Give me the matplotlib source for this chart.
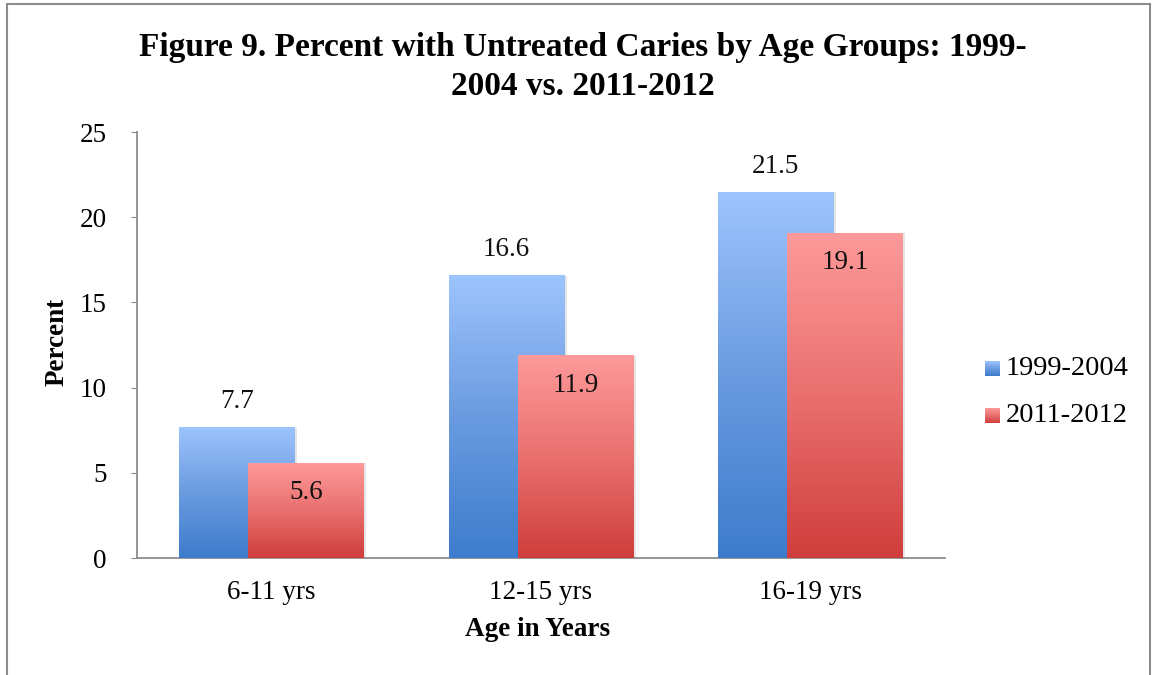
import numpy as np
import matplotlib
matplotlib.use("Agg")
import matplotlib.pyplot as plt
from matplotlib.colors import LinearSegmentedColormap
from matplotlib.patches import Rectangle

categories = ["6-11 yrs", "12-15 yrs", "16-19 yrs"]
series_names = ["1999-2004", "2011-2012"]
values_1999_2004 = [7.7, 16.6, 21.5]
values_2011_2012 = [5.6, 11.9, 19.1]
y_ticks = [0, 5, 10, 15, 20, 25]

title = "Figure 9. Percent with Untreated Caries by Age Groups: 1999-\n2004 vs. 2011-2012"
x_label = "Age in Years"
y_label = "Percent"

SERIF = ["Liberation Serif", "DejaVu Serif"]
plt.rcParams["font.family"] = SERIF
FS = 19.5

blue_cmap = LinearSegmentedColormap.from_list("blue_grad", ["#3d7ccc", "#6a9be0", "#9ec4fd"])
red_cmap = LinearSegmentedColormap.from_list("red_grad", ["#cf3e3c", "#e9706f", "#fe9a9a"])

fig = plt.figure(figsize=(11.57, 6.75), dpi=100)
W, H = 1157, 675

# outer frame
fig.patches.append(Rectangle((7 / W, -0.01), (1150 - 7) / W, (H - 4) / H + 0.01,
                             transform=fig.transFigure, fill=False,
                             edgecolor="#8c8c8c", linewidth=1.5))

AX_L, AX_R, AX_T, AX_B = 137, 945, 132, 558
ax = fig.add_axes([AX_L / W, 1 - AX_B / H, (AX_R - AX_L) / W, (AX_B - AX_T) / H])
x = np.arange(len(categories))
width = 0.43
offset = 0.128


def gradient_bars(xpos, vals, cmap):
    bars = ax.bar(xpos, vals, width, color="none", edgecolor="none", zorder=3)
    grad = np.linspace(0, 1, 256).reshape(-1, 1)
    for b in bars:
        x0, y0 = b.get_x(), b.get_y()
        w, h = b.get_width(), b.get_height()
        # soft drop shadow
        ax.add_patch(Rectangle((x0 + 0.008, y0 - 0.05), w, h, facecolor="#000000",
                               alpha=0.10, edgecolor="none", zorder=2.5))
        im = ax.imshow(grad, cmap=cmap, aspect="auto", origin="lower",
                       extent=(x0, x0 + w, y0, y0 + h), zorder=3,
                       interpolation="bilinear")
        im.set_clip_path(b)
    return bars


blue_bars = gradient_bars(x - offset, values_1999_2004, blue_cmap)
red_bars = gradient_bars(x + offset, values_2011_2012, red_cmap)

for b, v in zip(blue_bars, values_1999_2004):
    ax.text(b.get_x() + b.get_width() / 2, v + 1.5, f"{v}", ha="center", va="center",
            fontsize=FS, color="#111111", zorder=5)
for b, v in zip(red_bars, values_2011_2012):
    ax.text(b.get_x() + b.get_width() / 2, v - 1.75, f"{v}", ha="center", va="center",
            fontsize=FS, color="#111111", zorder=5)

ax.set_xlim(-0.5, len(categories) - 0.5)
ax.set_ylim(0, 25)
ax.set_yticks(y_ticks)
ax.set_xticks(x)
ax.set_xticklabels(categories)
ax.tick_params(axis="y", length=4, color="#8c8c8c", labelsize=FS, pad=18)
ax.tick_params(axis="x", length=0, labelsize=FS, pad=16)
for s in ["top", "right"]:
    ax.spines[s].set_visible(False)
for s in ["left", "bottom"]:
    ax.spines[s].set_color("#8c8c8c")
    ax.spines[s].set_linewidth(1.3)

ax.set_xlabel(x_label, fontsize=FS, fontweight="bold", va="center")
ax.set_ylabel(y_label, fontsize=FS, fontweight="bold", va="center")
ax.xaxis.set_label_coords((538 - AX_L) / (AX_R - AX_L), (AX_B - 630) / (AX_B - AX_T))
ax.yaxis.set_label_coords((57 - AX_L) / (AX_R - AX_L), (AX_B - 342) / (AX_B - AX_T))

fig.text(583 / W, 1 - 67 / H, title, ha="center", va="center", fontsize=24,
         fontweight="bold", linespacing=1.32)

# legend
for i, (name, cmap) in enumerate(zip(series_names, [blue_cmap, red_cmap])):
    yc = 1 - (368.5 + 47 * i) / H
    lax = fig.add_axes([985 / W, yc - 7.5 / H, 15 / W, 15 / H])
    lax.imshow(np.linspace(0, 1, 64).reshape(-1, 1), cmap=cmap, aspect="auto",
               origin="lower", interpolation="bilinear")
    lax.set_axis_off()
    fig.text(1006 / W, yc, name, ha="left", va="center", fontsize=20.5)

fig.savefig("out.png", dpi=100)
